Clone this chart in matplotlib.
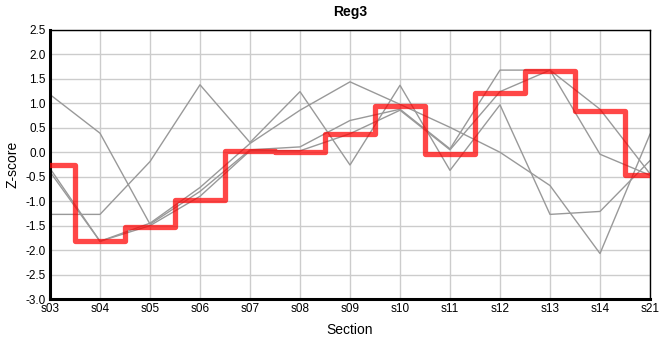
import matplotlib
matplotlib.use("Agg")
import matplotlib.pyplot as plt

sections = ["s03", "s04", "s05", "s06", "s07", "s08", "s09", "s10", "s11", "s12", "s13", "s14", "s21"]
series_a = [1.18, 0.39, -1.47, -0.80, 0.05, 0.11, 0.65, 0.88, 0.07, 1.68, 1.68, 0.88, -0.44]
series_b = [-1.27, -1.27, -0.19, 1.38, 0.20, 1.24, -0.26, 1.37, -0.37, 0.97, -1.27, -1.21, -0.17]
series_c = [-0.33, -1.82, -1.45, -0.72, 0.18, 0.86, 1.44, 0.98, 0.51, 0.0, -0.68, -2.07, 0.37]
series_d = [-0.40, -1.82, -1.50, -0.90, 0.03, 0.03, 0.38, 0.86, 0.05, 1.24, 1.68, -0.04, -0.47]
reg3 = [-0.25, -1.82, -1.52, -0.97, 0.02, 0.0, 0.38, 0.95, -0.03, 1.22, 1.66, 0.85, -0.47]
yticks = [2.5, 2.0, 1.5, 1.0, 0.5, 0.0, -0.5, -1.0, -1.5, -2.0, -2.5, -3.0]

plt.rcParams['font.family'] = ['Liberation Sans', 'DejaVu Sans']

fig = plt.figure(figsize=(6.6, 3.6), dpi=100)
ax = fig.add_axes([50/660, 1-299/360, 600/660, 269/360])

x = list(range(len(sections)))
for s in (series_a, series_b, series_c, series_d):
    ax.plot(x, s, color='#999999', lw=1.0, zorder=2)
ax.plot(x, reg3, drawstyle='steps-mid', color='#ff0000', alpha=0.72, lw=3.8,
        solid_joinstyle='round', solid_capstyle='round', zorder=3)

ax.set_xlim(0, len(sections)-1)
ax.set_ylim(-3.0, 2.5)
ax.set_xticks(x)
ax.set_xticklabels(sections)
ax.set_yticks(yticks)
ax.set_yticklabels([f"{v:.1f}" for v in yticks])
ax.tick_params(length=0, labelsize=8.5, pad=3)
ax.grid(True, color='#cccccc', lw=1.0, zorder=0)
ax.set_axisbelow(True)

for side in ('top', 'right'):
    ax.spines[side].set_linewidth(1.0)
for side in ('left', 'bottom'):
    ax.spines[side].set_linewidth(2.2)

ax.set_title("Reg3", fontsize=10, fontweight='bold', pad=10)
ax.set_xlabel("Section", fontsize=10, labelpad=6)
ax.set_ylabel("Z-score", fontsize=10, labelpad=4)

fig.savefig("out.png", dpi=100)
